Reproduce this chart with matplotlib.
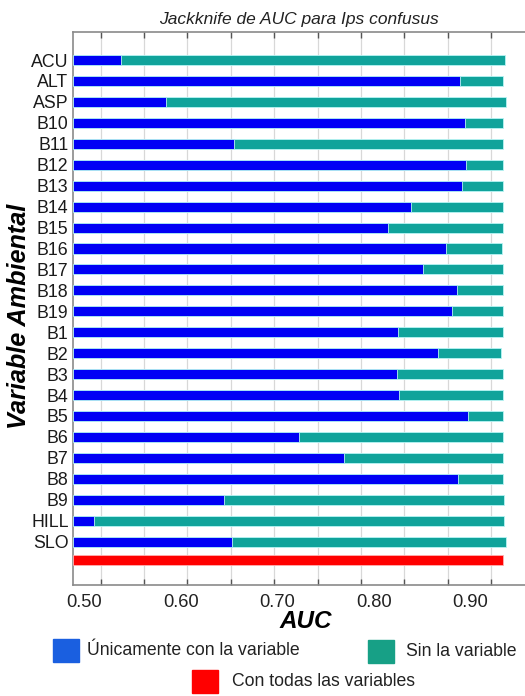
import numpy as np
import matplotlib.pyplot as plt
from matplotlib.patches import Rectangle

plt.rcParams['font.family'] = ['Liberation Sans', 'DejaVu Sans']

# ---------------- DATA ----------------
variables = ['ACU', 'ALT', 'ASP', 'B10', 'B11', 'B12', 'B13', 'B14', 'B15', 'B16',
             'B17', 'B18', 'B19', 'B1', 'B2', 'B3', 'B4', 'B5', 'B6', 'B7', 'B8',
             'B9', 'HILL', 'SLO']

# AUC using only this variable
auc_only = [0.538, 0.889, 0.585, 0.894, 0.655, 0.895, 0.891, 0.839, 0.815, 0.875,
            0.851, 0.886, 0.881, 0.825, 0.866, 0.824, 0.826, 0.897, 0.723, 0.769,
            0.887, 0.645, 0.510, 0.653]

# AUC without this variable
auc_without = [0.936, 0.934, 0.937, 0.934, 0.934, 0.934, 0.934, 0.934, 0.934, 0.933,
               0.934, 0.934, 0.934, 0.934, 0.932, 0.934, 0.934, 0.934, 0.934, 0.934,
               0.934, 0.935, 0.935, 0.937]

# AUC with all variables
auc_all = 0.934

tick_labels = ['0.50', '0.60', '0.70', '0.80', '0.90']
tick_values = [0.50, 0.60, 0.70, 0.80, 0.90]

# ---------------- COLORS ----------------
c_only = '#0000f5'
c_without = '#10a39b'
c_all = '#ff0000'
edge = '#b8f4f4'

# ---------------- FIGURE ----------------
fig = plt.figure(figsize=(5.25, 6.96), dpi=100)
ax = fig.add_axes([0.1385, 0.1595, 0.8615, 0.7945])

x_min, x_max = 0.4883, 0.9565
rows = np.arange(len(variables))
bar_h = 0.48

ax.barh(rows, np.array(auc_without) - x_min, left=x_min, height=bar_h,
        color=c_without, edgecolor=edge, linewidth=0.6, zorder=2)
ax.barh(rows, np.array(auc_only) - x_min, left=x_min, height=bar_h,
        color=c_only, edgecolor=edge, linewidth=0.6, zorder=3)
ax.barh([len(variables) - 1 + 0.88], [auc_all - x_min], left=x_min, height=bar_h,
        color=c_all, edgecolor='#ffb0b0', linewidth=0.6, zorder=3)

ax.set_xlim(x_min, x_max)
ax.set_ylim(25.07, -1.337)

ax.set_yticks(rows)
ax.set_yticklabels(variables, fontsize=12.8, color='#1a1a1a')
ax.tick_params(axis='y', length=0, pad=3)

# tick marks / grid (as in original, not aligned with labels)
grid_x = np.arange(0.5173, 0.95, 0.0449)
ax.set_xticks(grid_x)
ax.set_xticklabels([])
ax.tick_params(axis='x', direction='in', length=4, color='#555555',
               top=True, bottom=True, width=1)
ax.xaxis.grid(True, color='#d8d8d8', linewidth=0.9, zorder=0)
ax.set_axisbelow(True)

for t, lab in zip(tick_values, tick_labels):
    ax.text(t, 25.07 + 0.85, lab, ha='center', va='center', fontsize=13.2,
            color='#222222', clip_on=False)

for s in ['left', 'top', 'bottom']:
    ax.spines[s].set_color('#8a8a8a')
    ax.spines[s].set_linewidth(1.2)
ax.spines['right'].set_visible(False)

ax.set_title('Jackknife de AUC para Ips confusus', fontsize=12.5, style='italic',
             color='#222222', pad=6)

fig.text(306 / 525, 1 - 621 / 696, 'AUC', ha='center', va='center',
         fontsize=17.5, fontweight='bold', style='italic')
fig.text(19 / 525, 1 - 316 / 696, 'Variable Ambiental', ha='center', va='center',
         rotation=90, fontsize=18.2, fontweight='bold', style='italic')

# ---------------- LEGEND ----------------
legend_items = [
    (53, 639, 8, '#1a5fe0', 'Únicamente con la variable'),
    (368, 640, 12, '#17a086', 'Sin la variable'),
    (192, 670, 14, '#ff0000', 'Con todas las variables'),
]
W, H = 525, 696
for px, py, gap, col, lab in legend_items:
    fig.patches.append(Rectangle((px / W, 1 - (py + 23) / H), 26 / W, 23 / H,
                                 transform=fig.transFigure, color=col))
    fig.text((px + 26 + gap) / W, 1 - (py + 11.5) / H, lab, ha='left', va='center',
             fontsize=12.7, color='#222222')

fig.savefig('out.png', dpi=100)
